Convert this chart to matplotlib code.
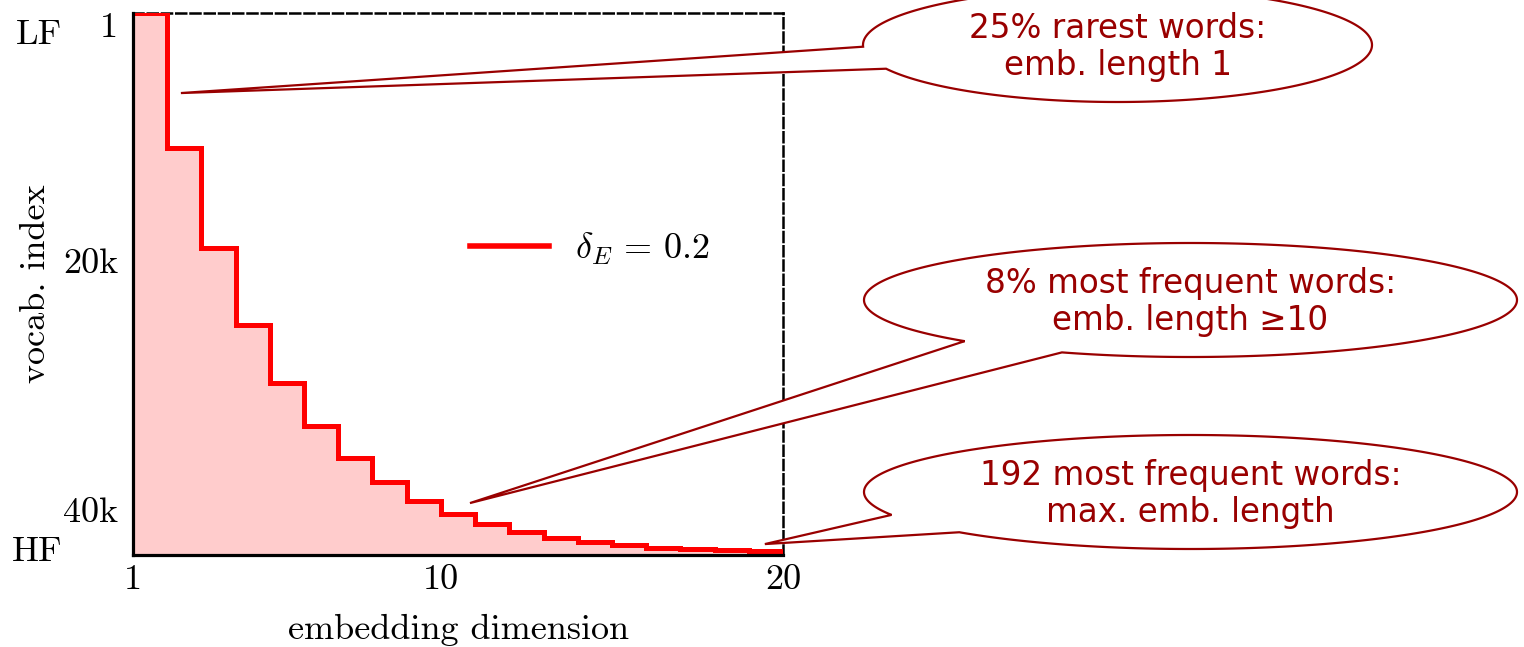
import numpy as np
import matplotlib
matplotlib.use("Agg")
import matplotlib.pyplot as plt
from matplotlib.path import Path
from matplotlib.patches import PathPatch

# ---------------- data ----------------
emb_dims = list(range(1, 21))
# vocab index at which each embedding dimension (1..19) ends (step boundaries)
vocab_steps = [1, 10870, 18970, 25140, 29790, 33250, 35830, 37760, 39290,
               40380, 41170, 41790, 42270, 42590, 42860, 43070, 43200, 43260, 43310]
vocab_size = 43660
legend_label = r"$\delta_E \,=\, 0.2$"
x_ticks = [1, 10, 20]
x_ticklabels = ["1", "10", "20"]
y_ticks = [1, 20000, 40000]
y_ticklabels = ["1", "20k", "40k"]

callout_texts = ["25% rarest words:\nemb. length 1",
                 "8% most frequent words:\nemb. length \u226510",
                 "192 most frequent words:\nmax. emb. length"]
# pointer tips in data coordinates (embedding dim, vocab index)
callout_tip_x = [2.40, 10.85, 19.47]
callout_tip_y = [6470, 39480, 42780]

# ---------------- style ----------------
plt.rcParams["font.family"] = ["cmr10"]
plt.rcParams["mathtext.fontset"] = "cm"
plt.rcParams["axes.unicode_minus"] = False
plt.rcParams["axes.formatter.use_mathtext"] = True

W, H = 1524, 647
fig = plt.figure(figsize=(W / 100, H / 100), dpi=100)
ax = fig.add_axes([133 / W, 1 - 555 / H, 650 / W, (555 - 12.7) / H])

y_line = vocab_steps + [vocab_steps[-1]]
ax.fill_between(emb_dims, y_line, vocab_size, step="post",
                color="#FFCCCC", lw=0, zorder=1)
ax.step(emb_dims, y_line, where="post", color="#FF0000", lw=3.6,
        label=legend_label, zorder=3, solid_joinstyle="miter")

ax.set_xlim(1, 20)
ax.set_ylim(vocab_size, 1)

ax.set_xticks(x_ticks)
ax.set_xticklabels(x_ticklabels)
ax.set_yticks(y_ticks)
ax.set_yticklabels(y_ticklabels)
ax.tick_params(axis="both", length=0, labelsize=26)
ax.tick_params(axis="y", pad=10.5)
ax.tick_params(axis="x", pad=7)
ax.get_yticklabels()[0].set_va("top")

for s in ["left", "bottom"]:
    ax.spines[s].set_linewidth(2.3)
    ax.spines[s].set_color("black")
    ax.spines[s].set_zorder(4)
for s in ["top", "right"]:
    ax.spines[s].set_linewidth(1.8)
    ax.spines[s].set_linestyle((0, (4, 1.7)))
    ax.spines[s].set_color("black")

ax.set_xlabel("embedding dimension", fontsize=26, va="baseline")
ax.xaxis.set_label_coords(0.5, -(639 - 555) / 542.3)
ax.set_ylabel("vocab. index", fontsize=26, va="center")
ax.yaxis.set_label_coords((36 - 133) / 650, 0.5)

fig.text(62 / W, 1 - 35 / H, "LF", ha="right", va="center", fontsize=26)
fig.text(62 / W, 1 - 552 / H, "HF", ha="right", va="center", fontsize=26)

leg = ax.legend(loc="center left", bbox_to_anchor=((470 - 133) / 650, 1 - (249 - 12.7) / 542.3),
                frameon=False, fontsize=26, handlelength=2.2, handletextpad=0.7,
                borderpad=0, borderaxespad=0)
leg.get_lines()[0].set_linewidth(4)

# ---------------- callouts ----------------
dark_red = "#990000"
# ellipse geometry in pixel coords (y measured downward from top)
ell_cx = [1117.5, 1190.5, 1190.5]
ell_cy = [45, 300, 492]
ell_hw = [254.5, 326.5, 326.5]
ell_hh = [57, 57, 57]
attach_a = [(863.3, 46.7), (960, 342), (890, 515)]
attach_b = [(883.3, 69), (1058, 354), (955, 533)]

for i in range(3):
    cx, cy, hw, hh = ell_cx[i], H - ell_cy[i], ell_hw[i], ell_hh[i]
    ax_, ay_ = attach_a[i][0], H - attach_a[i][1]
    bx_, by_ = attach_b[i][0], H - attach_b[i][1]
    tha = np.arctan2((ay_ - cy) / hh, (ax_ - cx) / hw) % (2 * np.pi)
    thb = np.arctan2((by_ - cy) / hh, (bx_ - cx) / hw) % (2 * np.pi)
    end = thb
    while end > tha:
        end -= 2 * np.pi
    th = np.linspace(tha, end, 400)
    ex = cx + hw * np.cos(th)
    ey = cy + hh * np.sin(th)
    tip_disp = ax.transData.transform((callout_tip_x[i], callout_tip_y[i]))
    verts = list(zip(ex, ey)) + [tuple(tip_disp), (ex[0], ey[0])]
    verts = [(vx / W, vy / H) for vx, vy in verts]
    codes = [Path.MOVETO] + [Path.LINETO] * (len(verts) - 2) + [Path.CLOSEPOLY]
    patch = PathPatch(Path(verts, codes), facecolor="white", edgecolor=dark_red,
                      lw=1.6, transform=fig.transFigure, zorder=5, joinstyle="miter")
    fig.add_artist(patch)
    fig.text(ell_cx[i] / W, 1 - (ell_cy[i] + 2) / H, callout_texts[i], ha="center", va="center",
             multialignment="center", color=dark_red, fontsize=23.5,
             family="DejaVu Sans", linespacing=1.17, zorder=6)

fig.savefig("out.png", dpi=100)
